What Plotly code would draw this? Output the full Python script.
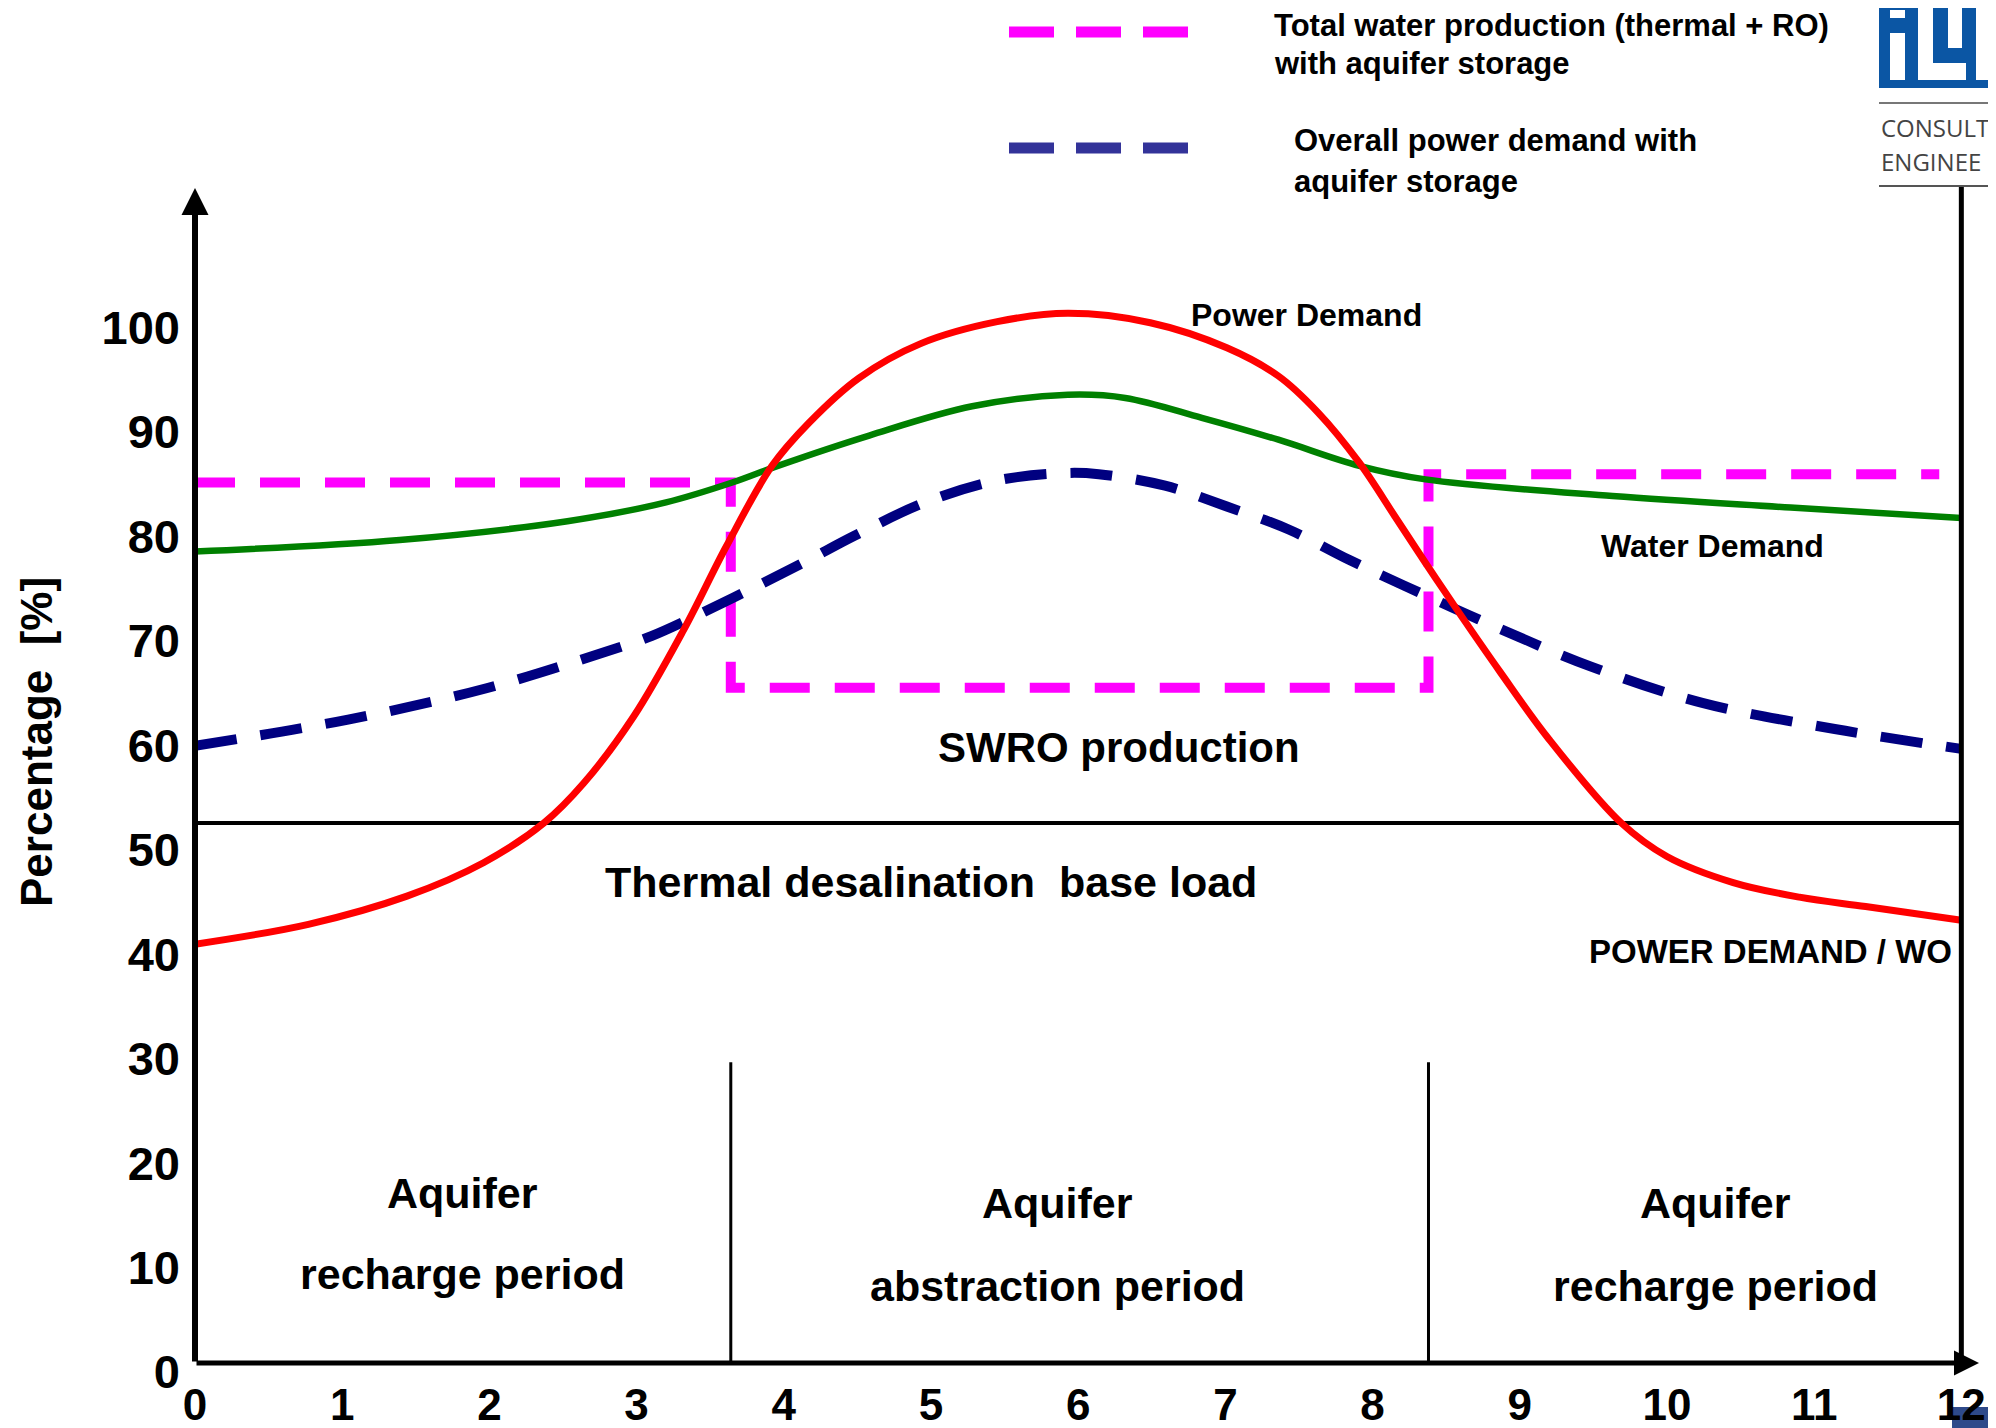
import plotly.graph_objects as go

# ---------------- data ----------------
month_ticks = list(range(13))
pct_ticks = list(range(0, 101, 10))

# Power demand without storage (red)
power_x = [0, 0.77, 1.44, 1.96, 2.37, 2.64, 2.98, 3.32, 3.61, 3.92, 4.17, 4.51, 4.93, 5.45, 5.93,
           6.49, 7.01, 7.36, 7.63, 7.91, 8.15, 8.36, 8.57, 8.87, 9.20, 9.69, 10.0, 10.45, 10.90, 11.35, 12.0]
power_y = [40.1, 42.0, 44.7, 47.9, 51.7, 55.5, 61.9, 70.2, 78.2, 85.9, 90.0, 94.3, 97.6, 99.7, 100.5,
           99.6, 97.2, 94.5, 91.0, 86.2, 81.1, 76.6, 72.2, 66.1, 59.7, 51.7, 48.5, 46.0, 44.6, 43.7, 42.4]

# Water demand (green)
water_x = [0, 1.39, 2.53, 3.20, 3.65, 3.96, 4.58, 5.28, 5.93, 6.32, 6.84, 7.36, 7.91, 8.36, 9.63, 10.84, 12.0]
water_y = [77.7, 78.8, 80.6, 82.4, 84.3, 85.9, 88.8, 91.6, 92.7, 92.4, 90.5, 88.4, 85.9, 84.6, 83.0, 81.9, 80.9]

# Overall power demand with aquifer storage (navy dashed)
overall_x = [0, 1.04, 1.98, 2.79, 3.10, 3.66, 4.13, 4.48, 4.96, 5.45, 5.90, 6.14, 6.59, 7.01, 7.43,
             7.84, 8.22, 8.72, 9.48, 10.24, 11.14, 12.0]
overall_y = [59.1, 61.6, 64.6, 68.1, 69.6, 73.3, 76.6, 79.2, 82.4, 84.5, 85.2, 85.1, 84.0, 82.0, 79.8,
             76.9, 74.4, 71.2, 66.7, 63.2, 60.7, 58.8]

# Total water production (thermal + RO) with aquifer storage (magenta dashed)
total_x = [0, 3.64, 3.64, 8.38, 8.38, 11.85]
total_y = [84.3, 84.3, 64.65, 64.65, 85.1, 85.1]

base_load = 51.7
period_bounds = [3.64, 8.38]
period_top = 28.8

# ---------------- layout geometry ----------------
PAGE_OFF = 8                      # default body margin of the html page
FIG_W, FIG_H = 1996 - PAGE_OFF, 1428 - PAGE_OFF
ML, MR, MT, MB = 195 - PAGE_OFF, 17, 188 - PAGE_OFF, 65
X_RANGE = [0, 12.12]
Y_RANGE = [0, 112.5]
FONT = "Liberation Sans"


def px(xp):
    """page pixel x -> paper x"""
    return (xp - PAGE_OFF - ML) / (FIG_W - ML - MR)


def py(yp):
    """page pixel y -> paper y"""
    return (FIG_H - MB - (yp - PAGE_OFF)) / (FIG_H - MT - MB)


fig = go.Figure()

fig.add_trace(go.Scatter(x=total_x, y=total_y, mode="lines",
                         line=dict(color="#FF00FF", width=10, dash="40px,25px"),
                         hoverinfo="skip", showlegend=False))
fig.add_trace(go.Scatter(x=water_x, y=water_y, mode="lines",
                         line=dict(color="#008000", width=6.5, shape="spline", smoothing=1.0),
                         hoverinfo="skip", showlegend=False))
fig.add_trace(go.Scatter(x=overall_x, y=overall_y, mode="lines",
                         line=dict(color="#000080", width=10, dash="42px,24px", shape="spline", smoothing=1.0),
                         hoverinfo="skip", showlegend=False))
fig.add_trace(go.Scatter(x=power_x, y=power_y, mode="lines",
                         line=dict(color="#FF0000", width=7, shape="spline", smoothing=1.0),
                         hoverinfo="skip", showlegend=False))

shapes = []
shapes.append(dict(type="line", xref="x", yref="y", x0=0, x1=12, y0=base_load, y1=base_load,
                   line=dict(color="black", width=4), layer="below"))
for b in period_bounds:
    shapes.append(dict(type="line", xref="x", yref="y", x0=b, x1=b, y0=0, y1=period_top,
                       line=dict(color="black", width=3), layer="below"))
shapes.append(dict(type="line", xref="x", yref="paper", x0=12, x1=12, y0=0, y1=py(186),
                   line=dict(color="black", width=5)))

# legend samples
shapes.append(dict(type="line", xref="paper", yref="paper", x0=px(1009), x1=px(1190),
                   y0=py(32), y1=py(32), line=dict(color="#FF00FF", width=11, dash="45px,22px")))
shapes.append(dict(type="line", xref="paper", yref="paper", x0=px(1009), x1=px(1190),
                   y0=py(148), y1=py(148), line=dict(color="#333399", width=11, dash="45px,22px")))

# logo (top right)
BLUE = "#0B56A4"


def rect(x0, y0, x1, y1, color, layer="above"):
    return dict(type="rect", xref="paper", yref="paper", x0=px(x0), x1=px(x1), y0=py(y1), y1=py(y0),
                line=dict(width=0), fillcolor=color, layer=layer)


shapes.append(rect(1879, 0, 1996, 88, BLUE))
shapes.append(rect(1890, 10, 1905, 18, "white"))
shapes.append(rect(1890, 33, 1905, 80, "white"))
shapes.append(rect(1918, 7, 1933, 80, "white"))
shapes.append(rect(1918, 63, 1966, 80, "white"))
shapes.append(rect(1948, 7, 1962, 48, "white"))
shapes.append(rect(1976, 7, 1996, 24, "white"))
shapes.append(rect(1976, 7, 1990, 80, "white"))
shapes.append(dict(type="line", xref="paper", yref="paper", x0=px(1879), x1=px(1996), y0=py(103), y1=py(103),
                   line=dict(color="#777777", width=2)))
shapes.append(dict(type="line", xref="paper", yref="paper", x0=px(1879), x1=px(1996), y0=py(186), y1=py(186),
                   line=dict(color="#555555", width=2)))
shapes.append(rect(1952, 1407, 1996, 1428, "#2E4A8A", layer="below"))

annotations = []
annotations.append(dict(x=0, y=Y_RANGE[1], ax=0, ay=0, xref="x", yref="y", axref="x", ayref="y",
                        text="", showarrow=True, arrowhead=2, arrowwidth=6, arrowsize=0.9,
                        arrowcolor="black", standoff=0, startstandoff=0))
annotations.append(dict(x=X_RANGE[1], y=0, ax=0, ay=0, xref="x", yref="y", axref="x", ayref="y",
                        text="", showarrow=True, arrowhead=2, arrowwidth=5, arrowsize=1.0,
                        arrowcolor="black", standoff=0, startstandoff=0))


def label(text, x, y, size, xanchor="center", xref="x", yref="y", color="black", family=FONT, bold=True):
    annotations.append(dict(text=("<b>%s</b>" % text) if bold else text, x=x, y=y, xref=xref, yref=yref,
                            showarrow=False, xanchor=xanchor, yanchor="middle",
                            font=dict(family=family, size=size, color=color)))


label("Power Demand", 7.55, 100.3, 32)
label("Water Demand", 10.31, 78.2, 32)
label("POWER DEMAND / WO", 11.95, 39.4, 33, xanchor="right")
label("SWRO production", 6.28, 58.9, 42)
label("Thermal desalination\u00a0 base load", 5.0, 46.1, 43)
label("Aquifer", 1.82, 16.3, 43)
label("recharge period", 1.82, 8.5, 43)
label("Aquifer", 5.86, 15.3, 43)
label("abstraction period", 5.86, 7.4, 43)
label("Aquifer", 10.33, 15.3, 43)
label("recharge period", 10.33, 7.4, 43)

# legend texts
label("Total water production (thermal + RO)", px(1272), py(25), 31, xanchor="left", xref="paper", yref="paper")
label("with aquifer storage", px(1272), py(64), 31, xanchor="left", xref="paper", yref="paper")
label("Overall power demand with", px(1292), py(141), 31, xanchor="left", xref="paper", yref="paper")
label("aquifer storage", px(1292), py(181), 31, xanchor="left", xref="paper", yref="paper")

# logo texts (truncated by the picture edge in the reference)
label("CONSULT", px(1879), py(127), 24, xanchor="left", xref="paper", yref="paper",
      color="#444444", family="Open Sans", bold=False)
label("ENGINEE", px(1879), py(161), 24, xanchor="left", xref="paper", yref="paper",
      color="#444444", family="Open Sans", bold=False)

# y-axis title
annotations.append(dict(text="<b>Percentage\u00a0 [%]</b>", x=px(36), y=py(742), xref="paper", yref="paper",
                        showarrow=False, textangle=-90, xanchor="center", yanchor="middle", borderpad=0,
                        font=dict(family=FONT, size=44, color="black")))

fig.update_layout(
    width=FIG_W, height=FIG_H,
    margin=dict(l=ML, r=MR, t=MT, b=MB, pad=0, autoexpand=False),
    paper_bgcolor="white", plot_bgcolor="white",
    showlegend=False,
    shapes=shapes,
    annotations=annotations,
    xaxis=dict(range=X_RANGE, tickmode="array", tickvals=month_ticks, automargin=False,
               ticktext=[str(m) for m in month_ticks], showgrid=False, zeroline=False,
               showline=False, ticks="", ticklabelstandoff=12,
               tickfont=dict(family=FONT, size=44, color="black", weight="bold")),
    yaxis=dict(range=Y_RANGE, tickmode="array", tickvals=pct_ticks, automargin=False,
               ticktext=[str(p) for p in pct_ticks], showgrid=False, zeroline=False,
               showline=False, ticks="", ticklabelstandoff=14, ticklabelshift=9,
               tickfont=dict(family=FONT, size=47, color="black", weight="bold")),
)

fig.write_html("out.html")
